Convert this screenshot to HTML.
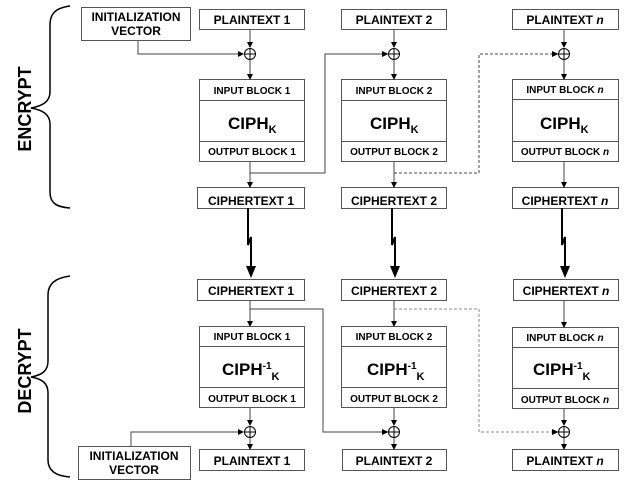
<!DOCTYPE html>
<html><head><meta charset="utf-8"><style>
html,body{margin:0;padding:0;background:#fff;width:640px;height:491px;overflow:hidden}
text{font-family:"Liberation Sans",Arial,sans-serif;font-weight:bold;fill:#000}
</style></head><body>
<svg width="640" height="491" viewBox="0 0 640 491" xmlns="http://www.w3.org/2000/svg">
<defs>
<marker id="a" markerWidth="6" markerHeight="6" refX="5" refY="3" orient="auto" markerUnits="userSpaceOnUse"><path d="M0,0 L6,3 L0,6z" fill="#000"/></marker>
</defs>
<g fill="none" stroke="#000" stroke-width="1.5">
<path d="M70,6 C55,8 50,14 50,25 L50,92 C50,102 42,106 31,108 C42,110 50,114 50,124 L50,192 C50,202 55,207 70,208"/>
<path d="M70,276 C55,278 48,284 48,295 L48,361 C48,371 42,375 31,377 C42,379 48,383 48,393 L48,460 C48,470 55,476 70,477"/>
</g>
<text transform="translate(31,109) rotate(-90)" font-size="18" text-anchor="middle">ENCRYPT</text>
<text transform="translate(31,371) rotate(-90)" font-size="18" text-anchor="middle">DECRYPT</text>

<g fill="#fff" stroke="#555" stroke-width="1">
<rect x="81.5" y="7.5" width="109" height="33"/>
<rect x="199.5" y="9.5" width="105" height="20"/>
<rect x="341.5" y="9.5" width="105" height="20"/>
<rect x="512.5" y="9.5" width="106" height="20"/>
<rect x="199.5" y="79.5" width="105" height="82"/>
<rect x="341.5" y="79.5" width="105" height="82"/>
<rect x="512.5" y="79.5" width="106" height="82"/>
<rect x="197.5" y="187.5" width="107" height="21"/>
<rect x="341.5" y="187.5" width="105" height="21"/>
<rect x="512.5" y="187.5" width="106" height="21"/>
<rect x="197.5" y="279.5" width="107" height="21"/>
<rect x="341.5" y="279.5" width="105" height="21"/>
<rect x="513.5" y="279.5" width="105" height="21"/>
<rect x="199.5" y="326.5" width="105" height="81"/>
<rect x="341.5" y="326.5" width="105" height="81"/>
<rect x="512.5" y="327.5" width="106" height="81"/>
<rect x="78.5" y="446.5" width="112" height="33"/>
<rect x="199.5" y="449.5" width="105" height="21"/>
<rect x="342.5" y="449.5" width="104" height="21"/>
<rect x="512.5" y="449.5" width="106" height="21"/>
</g>
<g stroke="#555" stroke-width="1">
<line x1="199" y1="100.5" x2="305" y2="100.5"/><line x1="199" y1="141.5" x2="305" y2="141.5"/>
<line x1="341" y1="100.5" x2="447" y2="100.5"/><line x1="341" y1="141.5" x2="447" y2="141.5"/>
<line x1="512" y1="99.5" x2="619" y2="99.5"/><line x1="512" y1="141.5" x2="619" y2="141.5"/>
<line x1="199" y1="346.5" x2="305" y2="346.5"/><line x1="199" y1="387.5" x2="305" y2="387.5"/>
<line x1="341" y1="346.5" x2="447" y2="346.5"/><line x1="341" y1="387.5" x2="447" y2="387.5"/>
<line x1="512" y1="347.5" x2="619" y2="347.5"/><line x1="512" y1="388.5" x2="619" y2="388.5"/>
</g>

<g fill="none" stroke="#444" stroke-width="1">
<path d="M250,30 V47" marker-end="url(#a)"/>
<path d="M138,41 V54 H243" marker-end="url(#a)"/>
<path d="M250,59 V79" marker-end="url(#a)"/>
<path d="M250,162 V187" marker-end="url(#a)"/>
<path d="M250,173 H325 V54 H383"/>
<path d="M394,30 V47" marker-end="url(#a)"/>
<path d="M394,59 V79" marker-end="url(#a)"/>
<path d="M394,162 V187" marker-end="url(#a)"/>
<path d="M394,173 H479 V54 H553" stroke-dasharray="3,2"/>
<path d="M564,30 V47" marker-end="url(#a)"/>
<path d="M564,59 V79" marker-end="url(#a)"/>
<path d="M564,162 V187" marker-end="url(#a)"/>
<path d="M250,301 V326" marker-end="url(#a)"/>
<path d="M250,309 H323 V432 H383"/>
<path d="M250,408 V425" marker-end="url(#a)"/>
<path d="M131,446 V432 H243" marker-end="url(#a)"/>
<path d="M250,437 V449" marker-end="url(#a)"/>
<path d="M394,301 V326" marker-end="url(#a)"/>
<path d="M394,309 H479 V432 H553" stroke-dasharray="3,2" stroke="#888"/>
<path d="M394,408 V425" marker-end="url(#a)"/>
<path d="M394,437 V449" marker-end="url(#a)"/>
<path d="M564,301 V327" marker-end="url(#a)"/>
<path d="M564,409 V425" marker-end="url(#a)"/>
<path d="M564,437 V449" marker-end="url(#a)"/>
</g>
<g fill="#000">
<path d="M382,51 L388.5,54 L382,57z"/>
<path d="M552,51 L558.5,54 L552,57z"/>
<path d="M382,429 L388.5,432 L382,435z"/>
<path d="M552,429 L558.5,432 L552,435z"/>
</g>
<g fill="#fff" stroke="#000" stroke-width="1">
<circle cx="250" cy="54" r="5.5"/><circle cx="394" cy="54" r="5.5"/><circle cx="564" cy="54" r="5.5"/>
<circle cx="250" cy="432" r="5.5"/><circle cx="394" cy="432" r="5.5"/><circle cx="564" cy="432" r="5.5"/>
</g>
<g stroke="#000" stroke-width="1">
<path d="M244.5,54h11M250,48.5v11M388.5,54h11M394,48.5v11M558.5,54h11M564,48.5v11"/>
<path d="M244.5,432h11M250,426.5v11M388.5,432h11M394,426.5v11M558.5,432h11M564,426.5v11"/>
</g>
<g fill="none" stroke="#000" stroke-width="2">
<path d="M248,208 V245 L251,237 V268"/>
<path d="M392,208 V245 L395,237 V268"/>
<path d="M562,208 V245 L565,237 V268"/>
</g>
<g fill="#000">
<path d="M246,266 L256,266 L251,278z"/>
<path d="M390,266 L400,266 L395,278z"/>
<path d="M560,266 L570,266 L565,278z"/>
</g>

<g font-size="12" text-anchor="middle">
<text x="136" y="21">INITIALIZATION</text><text x="136" y="35">VECTOR</text>
<text x="252" y="24">PLAINTEXT 1</text>
<text x="394" y="24">PLAINTEXT 2</text>
<text x="565" y="24">PLAINTEXT <tspan font-style="italic">n</tspan></text>
<text x="251" y="205">CIPHERTEXT 1</text>
<text x="394" y="205">CIPHERTEXT 2</text>
<text x="565" y="205">CIPHERTEXT <tspan font-style="italic">n</tspan></text>
<text x="251" y="295">CIPHERTEXT 1</text>
<text x="394" y="295">CIPHERTEXT 2</text>
<text x="566" y="295">CIPHERTEXT <tspan font-style="italic">n</tspan></text>
<text x="252" y="465">PLAINTEXT 1</text>
<text x="394" y="465">PLAINTEXT 2</text>
<text x="565" y="465">PLAINTEXT <tspan font-style="italic">n</tspan></text>
<text x="134" y="460">INITIALIZATION</text><text x="134" y="474">VECTOR</text>
</g>
<g font-size="10" text-anchor="middle">
<text x="252" y="94">INPUT BLOCK 1</text>
<text x="394" y="94">INPUT BLOCK 2</text>
<text x="565" y="93">INPUT BLOCK <tspan font-style="italic">n</tspan></text>
<text x="252" y="155">OUTPUT BLOCK 1</text>
<text x="394" y="155">OUTPUT BLOCK 2</text>
<text x="565" y="155">OUTPUT BLOCK <tspan font-style="italic">n</tspan></text>
<text x="252" y="340">INPUT BLOCK 1</text>
<text x="394" y="340">INPUT BLOCK 2</text>
<text x="565" y="341">INPUT BLOCK <tspan font-style="italic">n</tspan></text>
<text x="252" y="402">OUTPUT BLOCK 1</text>
<text x="394" y="402">OUTPUT BLOCK 2</text>
<text x="565" y="403">OUTPUT BLOCK <tspan font-style="italic">n</tspan></text>
</g>
<g font-size="17">
<text x="228" y="129">CIPH<tspan font-size="11" dy="4">K</tspan></text>
<text x="370" y="129">CIPH<tspan font-size="11" dy="4">K</tspan></text>
<text x="540" y="129">CIPH<tspan font-size="11" dy="4">K</tspan></text>
<text x="222" y="375">CIPH<tspan font-size="10" dy="-6">-1</tspan><tspan font-size="11" dy="11">K</tspan></text>
<text x="367" y="375">CIPH<tspan font-size="10" dy="-6">-1</tspan><tspan font-size="11" dy="11">K</tspan></text>
<text x="533" y="375">CIPH<tspan font-size="10" dy="-6">-1</tspan><tspan font-size="11" dy="11">K</tspan></text>
</g>
</svg>
</body></html>
